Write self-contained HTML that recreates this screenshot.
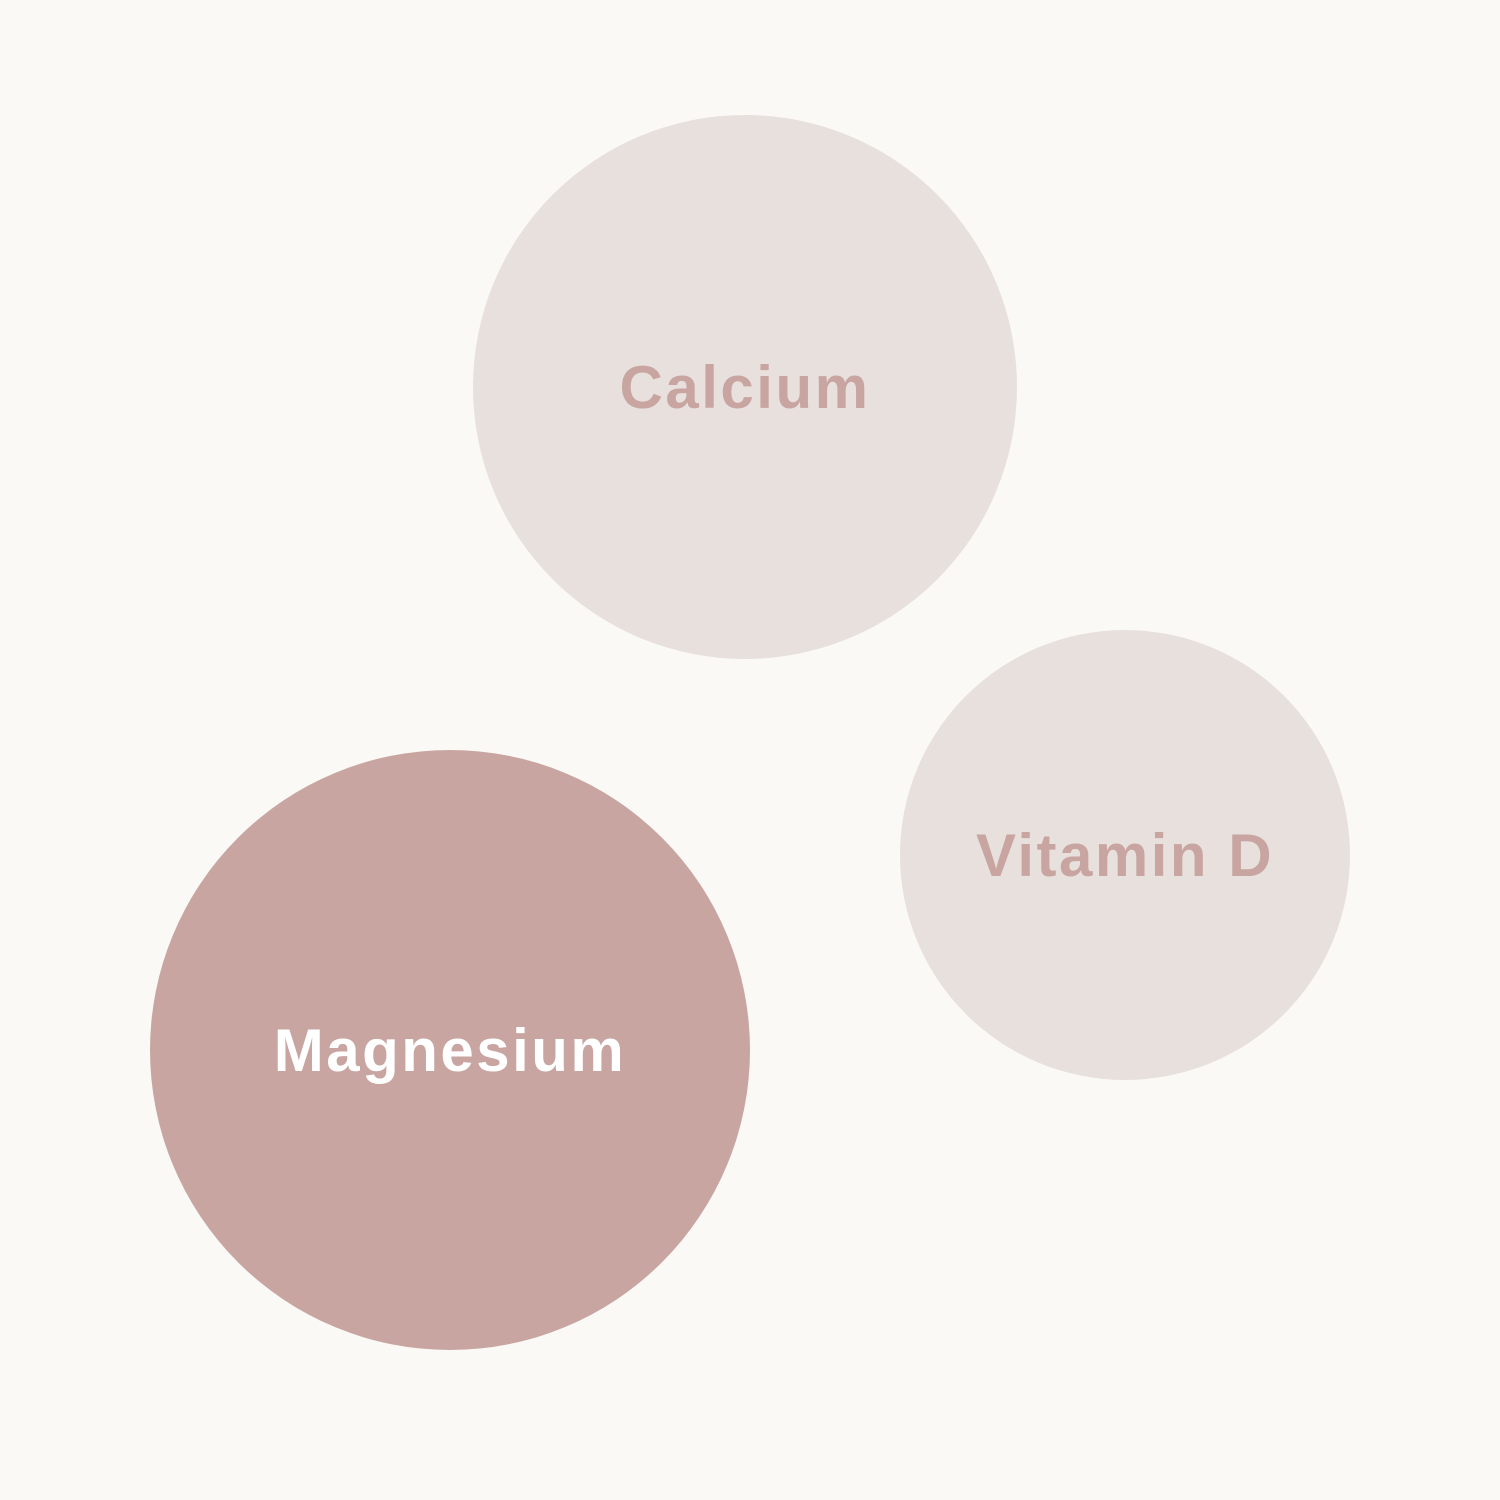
<!DOCTYPE html>
<html><head><style>
html,body{margin:0;padding:0;}
body{width:1500px;height:1500px;background:#faf9f6;position:relative;overflow:hidden;font-family:"Liberation Sans",sans-serif;}
.c{position:absolute;border-radius:50%;display:flex;align-items:center;justify-content:center;font-weight:bold;font-size:60px;letter-spacing:2.5px;}
</style></head><body>
<div class="c" style="left:473px;top:115px;width:544px;height:544px;background:#e8e0dd;color:#c8a5a1;">Calcium</div>
<div class="c" style="left:900px;top:630px;width:450px;height:450px;background:#e8e0dd;color:#c8a5a1;">Vitamin D</div>
<div class="c" style="left:150px;top:750px;width:600px;height:600px;background:#c8a5a1;color:#ffffff;">Magnesium</div>
</body></html>
